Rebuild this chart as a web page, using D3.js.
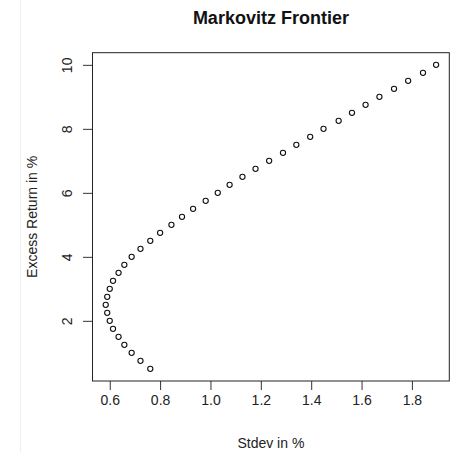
<!DOCTYPE html>
<html>
<head>
<meta charset="utf-8">
<script src="https://cdn.jsdelivr.net/npm/d3@7/dist/d3.min.js"></script>
<style>
  html, body { margin: 0; padding: 0; background: #fff; }
  svg text { font-family: "Liberation Sans", Arial, Helvetica, sans-serif; fill: #222; }
</style>
</head>
<body>
<svg id="chart" width="453" height="452"></svg>
<script>
// Efficient frontier: excess return (%) against portfolio standard deviation (%)
const excessReturn = [
  0.5, 0.75, 1.0, 1.25, 1.5, 1.75, 2.0, 2.25, 2.5, 2.75,
  3.0, 3.25, 3.5, 3.75, 4.0, 4.25, 4.5, 4.75, 5.0, 5.25,
  5.5, 5.75, 6.0, 6.25, 6.5, 6.75, 7.0, 7.25, 7.5, 7.75,
  8.0, 8.25, 8.5, 8.75, 9.0, 9.25, 9.5, 9.75, 10.0
];
const stdev = [
  0.761, 0.722, 0.687, 0.658, 0.635, 0.613, 0.600, 0.590, 0.584, 0.590,
  0.600, 0.613, 0.635, 0.658, 0.687, 0.722, 0.761, 0.800, 0.845, 0.887,
  0.931, 0.981, 1.029, 1.076, 1.127, 1.179, 1.233, 1.288, 1.341, 1.396,
  1.449, 1.509, 1.562, 1.616, 1.671, 1.729, 1.785, 1.844, 1.896
];
const xTicks = [0.6, 0.8, 1.0, 1.2, 1.4, 1.6, 1.8];
const yTicks = [2, 4, 6, 8, 10];

const title = "Markovitz Frontier";
const xLabel = "Stdev in %";
const yLabel = "Excess Return in %";

const points = stdev.map((s, i) => ({ sd: s, ret: excessReturn[i] }));

const svg = d3.select("#chart");
const box = { left: 92.5, right: 449.3, top: 52.7, bottom: 381 };

// pad each data range by 4% on both sides
function padded(ext) {
  const p = (ext[1] - ext[0]) * 0.04;
  return [ext[0] - p, ext[1] + p];
}

const x = d3.scaleLinear().domain(padded(d3.extent(stdev))).range([box.left, box.right]);
const y = d3.scaleLinear().domain(padded(d3.extent(excessReturn))).range([box.bottom, box.top]);

// faint page divider on the left
svg.append("line")
  .attr("x1", 20.5).attr("x2", 20.5).attr("y1", 0).attr("y2", 452)
  .attr("stroke", "#efefef").attr("stroke-width", 1);

// x axis
const xAxis = svg.append("g")
  .attr("transform", `translate(0,${box.bottom})`)
  .call(d3.axisBottom(x).tickValues(xTicks).tickFormat(d3.format(".1f")).tickSize(9).tickPadding(5));
xAxis.select(".domain").remove();
xAxis.selectAll("line").attr("stroke", "#333");
xAxis.selectAll("text").attr("font-size", 14).style("fill", "#222");

// y axis with labels parallel to the axis
const yAxis = svg.append("g")
  .attr("transform", `translate(${box.left},0)`)
  .call(d3.axisLeft(y).tickValues(yTicks).tickFormat(d3.format("d")).tickSize(9.5));
yAxis.select(".domain").remove();
yAxis.selectAll("line").attr("stroke", "#333");
yAxis.selectAll("text")
  .attr("font-size", 14)
  .attr("text-anchor", "middle")
  .attr("x", null)
  .attr("dy", "0")
  .attr("transform", "translate(-21,0) rotate(-90)");

// plot frame
svg.append("rect")
  .attr("x", box.left).attr("y", box.top)
  .attr("width", box.right - box.left).attr("height", box.bottom - box.top)
  .attr("fill", "none").attr("stroke", "#222").attr("stroke-width", 1);

// open circle markers
svg.append("g").selectAll("circle")
  .data(points)
  .join("circle")
  .attr("cx", d => x(d.sd))
  .attr("cy", d => y(d.ret))
  .attr("r", 2.6)
  .attr("fill", "none")
  .attr("stroke", "#111")
  .attr("stroke-width", 1.1);

// titles
svg.append("text")
  .attr("x", (box.left + box.right) / 2).attr("y", 24)
  .attr("text-anchor", "middle")
  .attr("font-size", 18)
  .attr("font-weight", "bold")
  .style("fill", "#111")
  .text(title);

svg.append("text")
  .attr("x", (box.left + box.right) / 2).attr("y", 448)
  .attr("text-anchor", "middle")
  .attr("font-size", 14)
  .text(xLabel);

svg.append("text")
  .attr("transform", `translate(37,${(box.top + box.bottom) / 2}) rotate(-90)`)
  .attr("text-anchor", "middle")
  .attr("font-size", 14)
  .text(yLabel);
</script>
</body>
</html>
